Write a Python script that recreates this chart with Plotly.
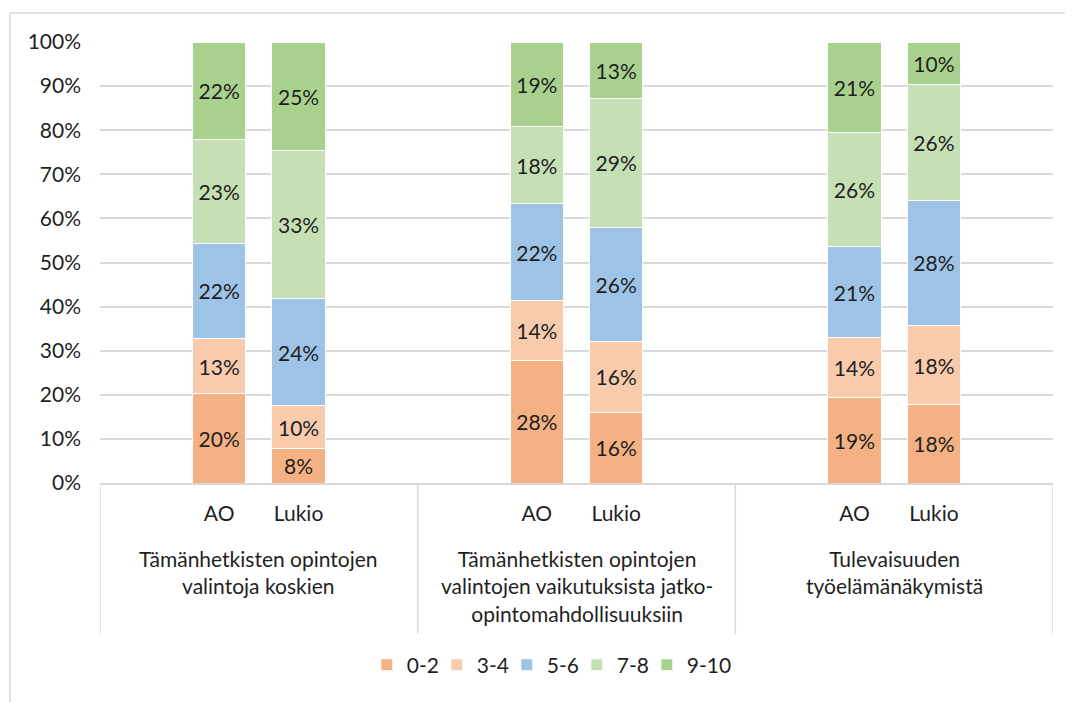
import plotly.graph_objects as go

groups = [
    "Tämänhetkisten opintojen<br>valintoja koskien",
    "Tämänhetkisten opintojen<br>valintojen vaikutuksista jatko-<br>opintomahdollisuuksiin",
    "Tulevaisuuden<br>työelämänäkymistä",
]
schools = ["AO", "Lukio"]
series_names = ["0-2", "3-4", "5-6", "7-8", "9-10"]
colors = ["#F4B183", "#F8CBAD", "#9DC3E6", "#C5E0B4", "#A9D18E"]

# order: G1 AO, G1 Lukio, G2 AO, G2 Lukio, G3 AO, G3 Lukio (percent)
v_0_2 = [20.2, 7.8, 27.7, 16.1, 19.3, 17.7]
v_3_4 = [12.6, 9.7, 13.6, 15.9, 13.7, 18.1]
v_5_6 = [21.6, 24.4, 22.0, 26.0, 20.6, 28.2]
v_7_8 = [23.4, 33.4, 17.6, 29.3, 25.8, 26.3]
v_9_10 = [22.2, 24.7, 19.1, 12.7, 20.6, 9.7]
series_values = [v_0_2, v_3_4, v_5_6, v_7_8, v_9_10]

FONT = "Lato"
TXT = "#1f1f1f"
GRID = "#d9d9d9"

# category slots: padding, AO, Lukio, padding per group
cats, ticktext, data_index = [], [], []
k = 0
for gi in range(len(groups)):
    cats.append(f"g{gi}_pad_a"); ticktext.append(""); data_index.append(None)
    for s in schools:
        cats.append(f"g{gi}_{s}"); ticktext.append(s); data_index.append(k); k += 1
    cats.append(f"g{gi}_pad_b"); ticktext.append(""); data_index.append(None)

fig = go.Figure()
for name, col, vals in zip(series_names, colors, series_values):
    y = [None if i is None else vals[i] / 100 for i in data_index]
    fig.add_trace(go.Bar(
        x=cats, y=y, name=name,
        marker=dict(color=col, line=dict(color="white", width=1)),
        texttemplate="%{y:.0%}", textposition="inside",
        insidetextanchor="middle", constraintext="none",
        textfont=dict(family=FONT, size=21, color=TXT),
        hoverinfo="skip",
    ))
# invisible spacer entry so the last legend label is not clipped
fig.add_trace(go.Bar(x=[cats[0]], y=[None], name=" ",
                     marker=dict(color="rgba(0,0,0,0)",
                                 line=dict(width=0, color="rgba(0,0,0,0)")),
                     hoverinfo="skip"))

shapes = []
for gi in range(len(groups) + 1):
    shapes.append(dict(type="line", xref="x", yref="paper",
                       x0=gi * 4 - 0.5, x1=gi * 4 - 0.5, y0=0, y1=-0.342,
                       line=dict(color=GRID, width=1.5)))
# outer frame (top and left edges)
shapes.append(dict(type="line", xref="paper", yref="paper",
                   x0=-0.0944, x1=1.05, y0=1.066, y1=1.066,
                   line=dict(color=GRID, width=1.5)))
shapes.append(dict(type="line", xref="paper", yref="paper",
                   x0=-0.0944, x1=-0.0944, y0=1.066, y1=-0.53,
                   line=dict(color=GRID, width=1.5)))

annotations = []
for gi, g in enumerate(groups):
    annotations.append(dict(
        text=g, xref="x", yref="paper", x=gi * 4 + 1.5, y=-0.138,
        xanchor="center", yanchor="top", showarrow=False, align="center",
        font=dict(family=FONT, size=21, color=TXT),
    ))

fig.update_layout(
    width=1073, height=702,
    margin=dict(l=92, r=28, t=34, b=227),
    paper_bgcolor="white", plot_bgcolor="white",
    barmode="stack", bargap=0.33,
    font=dict(family=FONT, size=21, color=TXT),
    shapes=shapes, annotations=annotations,
    showlegend=True,
    legend=dict(orientation="h", x=0.280, xanchor="left", y=-0.413,
                yanchor="middle", traceorder="normal",
                font=dict(family=FONT, size=21, color=TXT),
                itemwidth=30, entrywidth=25, bgcolor="rgba(0,0,0,0)"),
)
fig.update_xaxes(
    type="category", categoryorder="array", categoryarray=cats,
    tickmode="array", tickvals=cats, ticktext=ticktext,
    range=[-0.5, len(cats) - 0.5],
    showgrid=False, showline=True, linecolor=GRID, linewidth=1.5,
    ticks="", ticklabelstandoff=11,
    tickfont=dict(family=FONT, size=21, color=TXT),
    fixedrange=True,
)
fig.update_yaxes(
    range=[0, 1], dtick=0.1, tickformat=".0%",
    showgrid=True, gridcolor=GRID, gridwidth=1.5,
    zeroline=False, showline=False, ticks="", ticklabelstandoff=18,
    tickfont=dict(family=FONT, size=21, color=TXT),
    fixedrange=True,
)

fig.write_html("out.html")
